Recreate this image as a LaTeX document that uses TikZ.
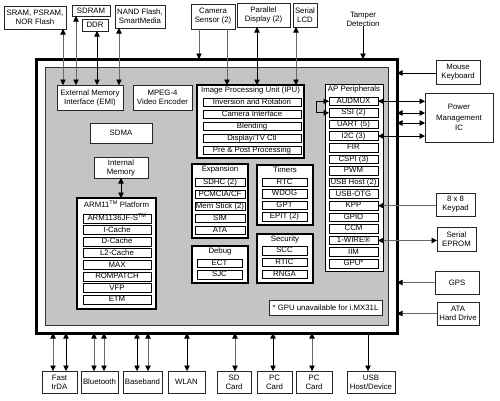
\documentclass[tikz,border=0pt]{standalone}
\usepackage{fontspec}
\setmainfont{Liberation Sans}
\usetikzlibrary{arrows.meta}
\definecolor{panel}{RGB}{196,196,196}
\definecolor{ln}{RGB}{105,105,105}
\newcommand\bx[7][]{\node[#1,minimum width={(#4-#2)*1pt},minimum height={(#5-#3)*1pt}] (#6) at ({(#2+#4)/2},{(#3+#5)/2}) {#7};}
\tikzset{
  every node/.style={font=\fontsize{7.8}{9}\selectfont, inner sep=0pt, outer sep=0pt, align=center},
  ext/.style={draw=black!85, line width=0.6pt, fill=white},
  grp/.style={draw=black, line width=1.1pt, fill=white},
  sub/.style={draw=black, line width=0.8pt, fill=white, text height=5.6pt, text depth=1.4pt},
  ttl/.style={anchor=north},
  lt/.style={line width=0.6pt, color=ln},
  dk/.style={line width=0.9pt, color=black},
  >={Triangle[length=5.5pt,width=5.5pt,color=black]}
}
\begin{document}
\begin{tikzpicture}[x=1pt,y=-1pt]
\useasboundingbox (0,0) rectangle (500,400);
% main chip
\bx[draw=black, line width=3pt]{36}{59}{397}{333}{outer}{}
\bx[draw=black!80, line width=0.6pt, fill=panel]{45}{67}{388}{325}{panel}{}
% top externals
\bx[ext]{4}{6}{66}{29}{sram}{SRAM, PSRAM,\\NOR Flash}
\bx[ext]{72}{5}{110}{16}{sdram}{SDRAM}
\bx[ext]{82}{19}{108}{31}{ddr}{DDR}
\bx[ext]{115}{5}{165}{28}{nand}{NAND Flash,\\SmartMedia}
\bx[ext]{191}{4}{235}{29}{cam}{Camera\\Sensor (2)}
\bx[ext]{237}{3}{290}{27}{par}{Parallel\\Display (2)}
\bx[ext]{293}{3}{317}{27}{slcd}{Serial\\LCD}
\node (tamp) at (363,19) {Tamper\\Detection};
% right externals
\bx[ext]{436}{60}{480}{84}{mouse}{Mouse\\Keyboard}
\bx[ext,font=\fontsize{7.8}{10.5}\selectfont]{425}{93}{493}{142}{pmic}{Power\\Management\\IC}
\bx[ext]{436}{193}{475}{216}{kpd}{8 x 8\\Keypad}
\bx[ext]{437}{227}{476}{251}{eprom}{Serial\\EPROM}
\bx[ext]{435}{271}{479}{294}{gps}{GPS}
\bx[ext]{437}{302}{479}{325}{ata}{ATA\\Hard Drive}
% bottom externals
\bx[ext]{42}{371}{77}{393}{irda}{Fast\\IrDA}
\bx[ext]{81}{371}{118}{393}{bt}{Bluetooth}
\bx[ext]{123}{371}{162}{393}{bb}{Baseband}
\bx[ext]{168}{371}{205}{393}{wlan}{WLAN}
\bx[ext]{217}{371}{251}{393}{sd}{SD\\Card}
\bx[ext]{257}{371}{292}{393}{pca}{PC\\Card}
\bx[ext]{296}{371}{332}{393}{pcb}{PC\\Card}
\bx[ext]{347}{371}{395}{393}{usb}{USB\\Host/Device}
% inside blocks
\bx[ext]{57}{85}{123}{110}{emi}{External Memory\\Interface (EMI)}
\bx[ext]{133}{85}{192}{110}{mpeg}{MPEG-4\\Video Encoder}
\bx[ext,line width=0.9pt]{90}{123}{152}{143}{sdma}{SDMA}
\bx[ext]{94}{157}{148}{178}{imem}{Internal\\Memory}
% IPU
\bx[grp,line width=1.6pt]{197}{85}{304}{158}{ipu}{}
\node[ttl] (ipuT) at ([yshift=-2pt]ipu.north) {Image Processing Unit (IPU)};
\bx[sub]{203}{98}{301}{106.5}{inv}{Inversion and Rotation}
\bx[sub]{203}{110}{301}{118.5}{camif}{Camera Interface}
\bx[sub]{203}{122}{301}{130.5}{blend}{Blending}
\bx[sub]{203}{134}{301}{142.5}{disp}{Display/TV Ctl}
\bx[sub]{203}{146}{301}{154.5}{prepost}{Pre \& Post Processing}
% AP peripherals
\bx[grp,line width=0.8pt]{325}{84}{383}{271}{ap}{}
\node[ttl] (apT) at ([yshift=-2pt]ap.north) {AP Peripherals};
\bx[sub]{329}{97}{378}{105.5}{audmux}{AUDMUX}
\bx[sub]{329}{108.6}{378}{117.1}{ssi}{SSI (2)}
\bx[sub]{329}{120.2}{378}{128.7}{uart}{UART (5)}
\bx[sub]{329}{131.8}{378}{140.3}{iic}{I2C (3)}
\bx[sub]{329}{143.4}{378}{151.9}{fir}{FIR}
\bx[sub]{329}{155}{378}{163.5}{cspi}{CSPI (3)}
\bx[sub]{329}{166.6}{378}{175.1}{pwm}{PWM}
\bx[sub]{329}{178.2}{378}{186.7}{usbh}{USB Host (2)}
\bx[sub]{329}{189.8}{378}{198.3}{otg}{USB-OTG}
\bx[sub]{329}{201.4}{378}{209.9}{kpp}{KPP}
\bx[sub]{329}{213}{378}{221.5}{gpio}{GPIO}
\bx[sub]{329}{224.6}{378}{233.1}{ccm}{CCM}
\bx[sub]{329}{236.2}{378}{244.7}{wire}{1-WIRE\textregistered}
\bx[sub]{329}{247.8}{378}{256.3}{iim}{IIM}
\bx[sub]{329}{259.4}{378}{267.9}{gpu}{GPU*}
% ARM11
\bx[grp]{77}{198}{156}{309}{arm}{}
\node[ttl] (armT) at ([yshift=-2.5pt]arm.north) {ARM11\textsuperscript{TM} Platform};
\bx[sub]{83}{214}{151}{223}{core}{ARM1136JF-S\textsuperscript{TM}}
\bx[sub]{83}{225.6}{151}{234.6}{icache}{I-Cache}
\bx[sub]{83}{237.2}{151}{246.2}{dcache}{D-Cache}
\bx[sub]{83}{248.8}{151}{257.8}{ltwo}{L2-Cache}
\bx[sub]{83}{260.4}{151}{269.4}{max}{MAX}
\bx[sub]{83}{272}{151}{281}{rompatch}{ROMPATCH}
\bx[sub]{83}{283.6}{151}{292.6}{vfp}{VFP}
\bx[sub]{83}{295.2}{151}{304.2}{etm}{ETM}
% Expansion
\bx[grp]{192}{164}{248}{238}{expn}{}
\node[ttl] (expT) at ([yshift=-2pt]expn.north) {Expansion};
\bx[sub]{195}{178}{245}{186.5}{sdhc}{SDHC (2)}
\bx[sub]{195}{190}{245}{198.5}{pcmcia}{PCMCIA/CF}
\bx[sub]{195}{202}{245}{210.5}{mstick}{Mem Stick (2)}
\bx[sub]{195}{214}{245}{222.5}{sim}{SIM}
\bx[sub]{195}{226}{245}{234.5}{atai}{ATA}
% Timers
\bx[grp]{257}{165}{313}{225}{tim}{}
\node[ttl] (timT) at ([yshift=-2pt]tim.north) {Timers};
\bx[sub]{262}{178}{307}{186.5}{rtc}{RTC}
\bx[sub]{262}{189.5}{307}{198}{wdog}{WDOG}
\bx[sub]{262}{201}{307}{209.5}{gpt}{GPT}
\bx[sub]{262}{212.5}{307}{221}{epit}{EPIT (2)}
% Security
\bx[grp]{257}{234}{313}{283}{sec}{}
\node[ttl] (secT) at ([yshift=-2pt]sec.north) {Security};
\bx[sub]{262}{246.5}{307}{255}{scc}{SCC}
\bx[sub]{262}{258}{307}{266.5}{rtic}{RTIC}
\bx[sub]{262}{270}{307}{278.5}{rnga}{RNGA}
% Debug
\bx[grp]{192}{246}{248}{283}{dbg}{}
\node[ttl] (dbgT) at ([yshift=-2pt]dbg.north) {Debug};
\bx[sub]{197}{259}{242}{267.5}{ect}{ECT}
\bx[sub]{197}{270.5}{242}{279}{sjc}{SJC}
% footnote
\bx[ext]{269}{300}{382}{315}{note}{* GPU unavailable for i.MX31L}
% --- connectors: top
\draw[lt,<->] (sram.south -| 63,0) -- (emi.north -| 63,0);
\draw[lt,<->] (sdram.south -| 76,0) -- (emi.north -| 76,0);
\draw[dk,<->] (ddr.south -| 97,0) -- (emi.north -| 97,0);
\draw[lt,<->] (nand.south -| 119,0) -- (emi.north -| 119,0);
\draw[lt,->] (cam.south -| 199,0) -- (outer.north -| 199,0);
\draw[lt,->] (cam.south -| 227,0) -- (ipu.north -| 227,0);
\draw[dk,<->] (par.south -| 257,0) -- (ipu.north -| 257,0);
\draw[lt,<->] (slcd.south -| 296,0) -- (ipu.north -| 296,0);
\draw[dk,->] (tamp.south) -- (outer.north -| tamp.south);
\draw[dk,<->] (imem.south) -- (imem.south |- arm.north);
% right
\draw[dk,->] (mouse.west |- 0,73) -- (outer.east |- 0,73);
\draw[dk,<->] (audmux.east) -- (pmic.west |- audmux.east);
\draw[dk,<->] (outer.east |- 0,113) -- (pmic.west |- 0,113);
\draw[dk,<->] (outer.east |- 0,123) -- (pmic.west |- 0,123);
\draw[dk,<->] (iic.east) -- (pmic.west |- iic.east);
\draw[dk,<->] (audmux.west) -- ++(-13,0) |- (ssi.west);
\draw[lt,->] (kpd.west |- kpp.east) -- (kpp.east);
\draw[lt,<->] (wire.east) -- (eprom.west |- wire.east);
\draw[lt,->] (gps.west) -- (outer.east |- gps.west);
\draw[lt,->] (ata.west) -- (outer.east |- ata.west);
% bottom
\draw[lt,<->] (outer.south -| 53,0) -- (irda.north -| 53,0);
\draw[dk,<->] (outer.south -| 66,0) -- (irda.north -| 66,0);
\draw[lt,<->] (outer.south -| 94,0) -- (bt.north -| 94,0);
\draw[lt,<->] (outer.south -| 104,0) -- (bt.north -| 104,0);
\draw[dk,<->] (outer.south -| 137,0) -- (bb.north -| 137,0);
\draw[lt,<->] (outer.south -| 148,0) -- (bb.north -| 148,0);
\draw[dk,<->] (outer.south -| 187,0) -- (wlan.north -| 187,0);
\draw[lt,<->] (outer.south -| 235,0) -- (sd.north -| 235,0);
\draw[dk,<->] (outer.south -| 273,0) -- (pca.north -| 273,0);
\draw[lt,<->] (outer.south -| 312,0) -- (pcb.north -| 312,0);
\draw[dk,->] (outer.south -| 368,0) -- (usb.north -| 368,0);
\end{tikzpicture}
\end{document}
